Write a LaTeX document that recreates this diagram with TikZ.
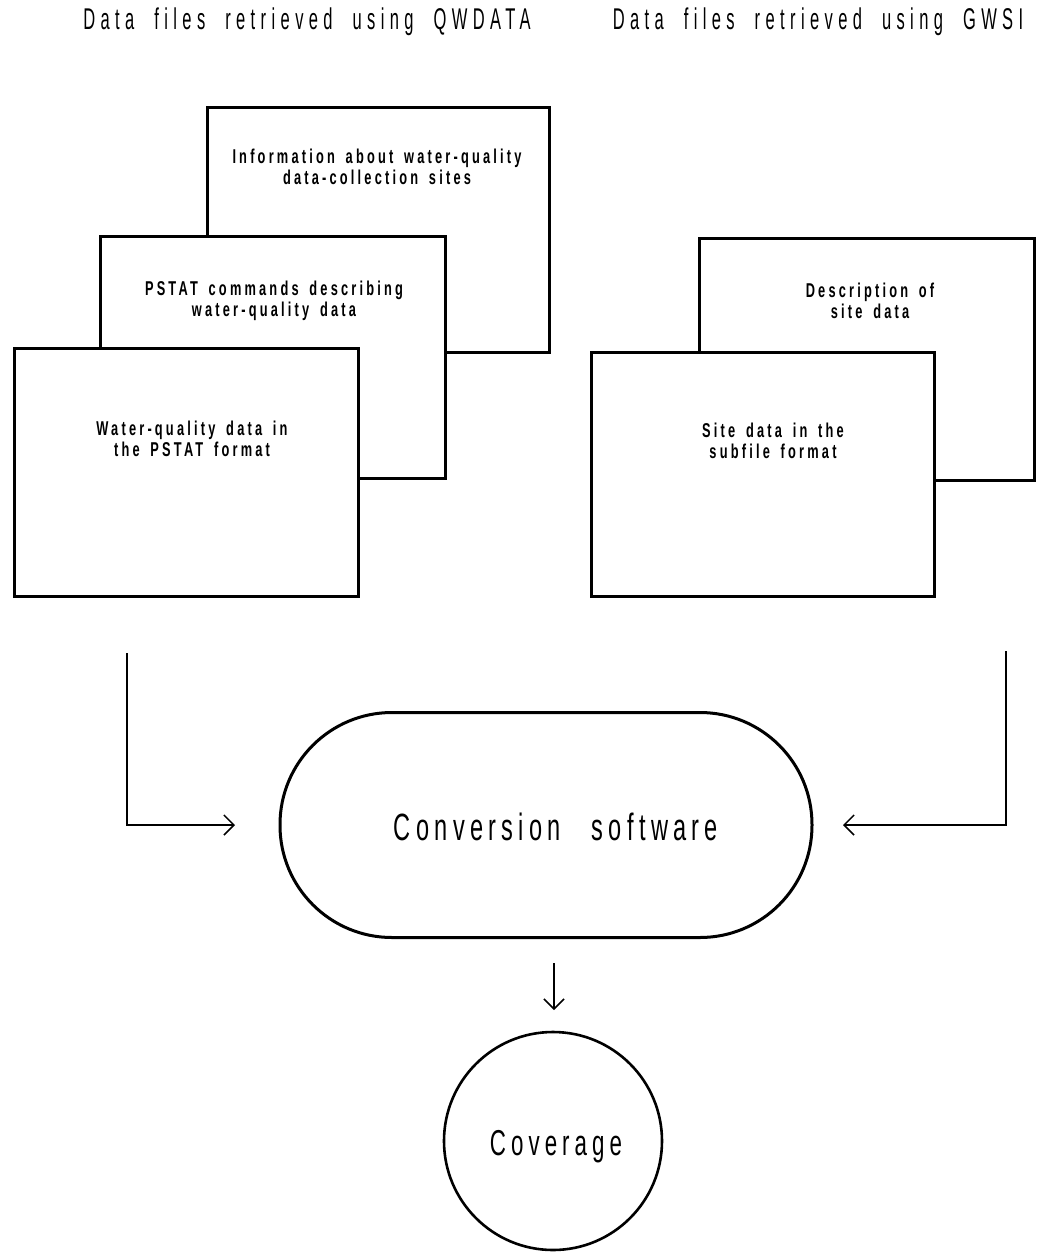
\documentclass[tikz,border=0pt]{standalone}
\usepackage{fontspec}
\setmainfont{Liberation Sans}[FakeStretch=0.72]
\usetikzlibrary{arrows.meta}
\newfontfamily\titlefont{Liberation Sans}[FakeStretch=0.55,LetterSpace=18,WordSpace=2]
\newfontfamily\boxfont{Liberation Sans}[FakeStretch=0.64,LetterSpace=16,WordSpace=1.6,BoldFont={Liberation Sans Bold}]
\newfontfamily\bigfont{Liberation Sans}[FakeStretch=0.62,LetterSpace=14,WordSpace=2.6]
\begin{document}
\begin{tikzpicture}[x=0.5pt,y=-0.5pt,
  filebox/.style={draw,line width=1.5pt,fill=white,inner sep=0pt},
  boxtext/.style={align=center,font=\boxfont\bfseries\fontsize{10}{10.8}\selectfont},
  headtext/.style={font=\titlefont\fontsize{15}{16}\selectfont},
  conn/.style={line width=0.75pt,-{Straight Barb[length=5pt,width=10pt,line width=0.75pt]}}]
\useasboundingbox (0,0) rectangle (1046,1254);
% headings
\node[headtext] (h1) at (307,22) {Data files retrieved using QWDATA};
\node[headtext] (h2) at (818,22) {Data files retrieved using GWSI};
% left stack
\node[filebox,minimum width=171pt,minimum height=122.5pt] (ba) at (378,229.5) {};
\node[boxtext] (ta) at (377,167) {Information about water-quality\\data-collection sites};
\node[filebox,minimum width=172.5pt,minimum height=121pt] (bb) at (272.5,357) {};
\node[boxtext] (tb) at (274,301) {PSTAT commands describing\\water-quality data};
\node[filebox,minimum width=172pt,minimum height=124pt] (bc) at (186,472) {};
\node[boxtext] (tc) at (192,439) {Water-quality data in\\the PSTAT format};
% right stack
\node[filebox,minimum width=167.5pt,minimum height=121pt] (bd) at (866.5,359) {};
\node[boxtext] (td) at (870,301) {Description of\\site data};
\node[filebox,minimum width=171.5pt,minimum height=122pt] (be) at (762.5,474) {};
\node[boxtext] (te) at (773,441) {Site data in the\\subfile format};
% conversion
\node[draw,line width=1.5pt,minimum width=266pt,minimum height=112.5pt,rounded corners=56pt,inner sep=0pt] (conv) at (546,825) {};
\node[font=\bigfont\fontsize{19}{22}\selectfont] (convt) at (556,827) {Conversion software};
\node[draw,circle,line width=1.3pt,minimum size=109pt,inner sep=0pt] (cov) at (553,1141) {};
\node[font=\bigfont\fontsize{18}{22}\selectfont] (covt) at (556,1147) {Coverage};
% connectors
\coordinate (ls) at (127,653);
\coordinate (le) at (235,825);
\coordinate (rs) at (1006,651);
\coordinate (re) at (843,825);
\coordinate (ds) at (554,963);
\coordinate (de) at (554,1010);
\draw[conn] (ls) |- (le);
\draw[conn] (rs) |- (re);
\draw[conn] (ds) -- (de);
\end{tikzpicture}
\end{document}
